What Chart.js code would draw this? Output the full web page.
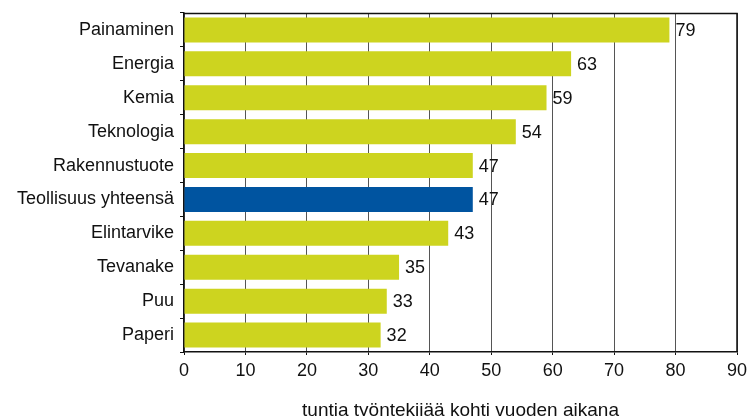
<!DOCTYPE html>
<html>
<head>
<meta charset="utf-8">
<script src="https://cdn.jsdelivr.net/npm/chart.js@4"></script>
<style>
  html, body { margin: 0; padding: 0; background: #fff; overflow: hidden; }
  #wrap { width: 755px; height: 422px; position: relative; }
</style>
</head>
<body>
<div id="wrap"><canvas id="chart"></canvas></div>
<script>
const categories = ['Painaminen', 'Energia', 'Kemia', 'Teknologia', 'Rakennustuote',
  'Teollisuus yhteensä', 'Elintarvike', 'Tevanake', 'Puu', 'Paperi'];
const hours = [79, 63, 59, 54, 47, 47, 43, 35, 33, 32];
const highlight = 'Teollisuus yhteensä';
const xTitle = 'tuntia työntekijää kohti vuoden aikana';

const FONT = '"Liberation Sans", Arial, sans-serif';
const barColors = categories.map(c => c === highlight ? '#0054a0' : '#cdd41f');

// numbers at the end of each bar + top/right frame of the plot
const extras = {
  id: 'extras',
  afterDraw(chart) {
    const ctx = chart.ctx;
    const area = chart.chartArea;
    ctx.save();
    ctx.strokeStyle = '#111';
    ctx.lineWidth = 1.5;
    ctx.beginPath();
    ctx.moveTo(area.left, area.top + 0.5);
    ctx.lineTo(area.right, area.top + 0.5);
    ctx.lineTo(area.right, area.bottom);
    ctx.stroke();

    const meta = chart.getDatasetMeta(0);
    ctx.font = '18px ' + FONT;
    ctx.fillStyle = '#111';
    ctx.textAlign = 'left';
    ctx.textBaseline = 'middle';
    meta.data.forEach((bar, i) => {
      ctx.fillText(String(hours[i]), bar.x + 6, bar.y + 1);
    });
    ctx.restore();
  }
};

new Chart(document.getElementById('chart'), {
  type: 'bar',
  data: {
    labels: categories,
    datasets: [{
      data: hours,
      backgroundColor: barColors,
      barPercentage: 0.82,
      categoryPercentage: 0.9
    }]
  },
  options: {
    indexAxis: 'y',
    responsive: true,
    maintainAspectRatio: false,
    animation: false,
    layout: { padding: { top: 13, right: 18, left: 0, bottom: 0 } },
    plugins: {
      legend: { display: false },
      tooltip: { enabled: false }
    },
    scales: {
      x: {
        min: 0,
        max: 90,
        afterFit(scale) { scale.height = 70; },
        ticks: {
          stepSize: 10,
          color: '#111',
          padding: 5,
          font: { family: FONT, size: 18 }
        },
        grid: { color: '#555', lineWidth: 1, tickLength: 3, tickColor: '#111' },
        border: { color: '#111', width: 1.5 },
        title: {
          display: true,
          text: xTitle,
          color: '#111',
          padding: { top: 13, bottom: 0 },
          font: { family: FONT, size: 19 }
        }
      },
      y: {
        afterFit(scale) {
          scale.width = 184;
          scale.paddingTop = 0;
          scale.paddingBottom = 0;
        },
        ticks: {
          color: '#111',
          padding: 6,
          font: { family: FONT, size: 18 }
        },
        grid: { drawOnChartArea: false, offset: true, color: '#111', tickLength: 4 },
        border: { color: '#111', width: 1.5 }
      }
    }
  },
  plugins: [extras]
});
</script>
</body>
</html>
